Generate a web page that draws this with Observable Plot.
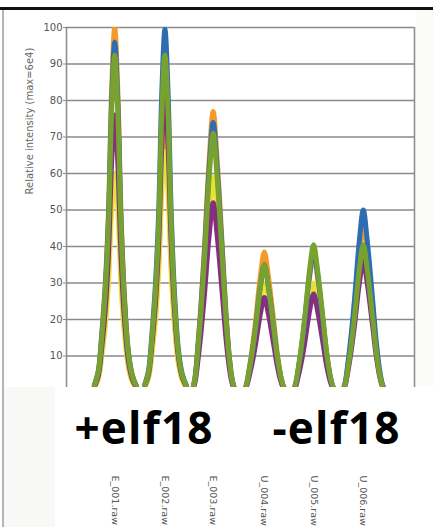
<!DOCTYPE html>
<html><head><meta charset="utf-8">
<script src="https://cdn.jsdelivr.net/npm/d3@7"></script>
<script src="https://cdn.jsdelivr.net/npm/@observablehq/plot@0.6"></script>
<style>
html,body{margin:0;padding:0;background:#fff;}
#wrap{position:relative;width:433px;height:527px;overflow:hidden;background:#fff;}
#topline{position:absolute;left:0;top:7px;width:433px;height:3px;background:#111;}
#leftline{position:absolute;left:2px;top:10px;width:2px;height:517px;background:#b5b5b5;}
#leftbox{position:absolute;left:4px;top:387px;width:51px;height:140px;background:#f8f8f7;}
#rightbox{position:absolute;left:416px;top:10px;width:17px;height:377px;background:#fbfbf7;}
#chart{position:absolute;left:0;top:0;}
</style></head><body><div id="wrap">
<div id="topline"></div><div id="leftline"></div><div id="leftbox"></div><div id="rightbox"></div>
<div id="chart"></div></div>
<script>
// sample names (x tick labels) and peak apex positions (in sample units)
const samples = ["E_001.raw", "E_002.raw", "E_003.raw", "U_004.raw", "U_005.raw", "U_006.raw"];
const peakCenters = [0.97, 1.98, 2.95, 3.98, 4.97, 5.97];
// which profile each sample's peak follows (0 = narrow tall peak, 1 = broader peak)
const peakProfile = [0, 0, 1, 1, 1, 1];

// series (drawing order) and colours
const seriesNames = ["trace A", "trace B", "trace C", "trace D", "trace E"];
const seriesColors = ["#f39a2b", "#e9e236", "#85307f", "#2f6db3", "#78a22f"];

// apex heights per sample
const traceA = [100, 72, 77, 38.5, 38, 46];      // orange
const traceB = [60, 66, 59, 30, 30, 39];         // yellow
const traceC = [76, 82, 52, 26, 27, 36];         // purple
const traceD = [96, 99.5, 74, 35, 39, 50];       // blue
const traceE = [92.5, 92.5, 71, 35, 40.5, 40.5]; // green

// peak profiles: offset from apex (sample units) at each fraction of apex
const profileFractions = [0.02, 0.06, 0.16, 0.30, 0.50, 0.83, 1, 0.83, 0.50, 0.28, 0.12, 0.05, 0.02];
const narrowOffsets = [-0.41, -0.33, -0.262, -0.19, -0.125, -0.062, 0, 0.062, 0.125, 0.19, 0.27, 0.35, 0.43];
const broadOffsets  = [-0.40, -0.36, -0.31, -0.25, -0.18, -0.08, 0, 0.08, 0.19, 0.26, 0.33, 0.38, 0.42];

const yTicks = [10, 20, 30, 40, 50, 60, 70, 80, 90, 100];
const yLabel = "Relative intensity (max=6e4)";
const groupLabels = ["+elf18", "-elf18"];

const heights = [traceA, traceB, traceC, traceD, traceE];
const profiles = [narrowOffsets, broadOffsets];
const rows = [];
seriesNames.forEach((s, si) => {
  peakCenters.forEach((c, pi) => {
    profiles[peakProfile[pi]].forEach((o, k) => {
      rows.push({series: s, key: s + "-" + pi, t: c + o, v: heights[si][pi] * profileFractions[k]});
    });
  });
});

const chart = Plot.plot({
  width: 433, height: 527,
  marginLeft: 66, marginRight: 19, marginTop: 27, marginBottom: 140,
  style: {background: "transparent", fontFamily: "DejaVu Sans, sans-serif"},
  x: {domain: [0, 7], axis: null},
  y: {domain: [0, 100], range: [392, 27], axis: null},
  color: {domain: seriesNames, range: seriesColors},
  marks: [
    Plot.ruleY(yTicks, {stroke: "#8a8a8a", strokeWidth: 1.6}),
    Plot.ruleX([0, 7], {stroke: "#8f8f8f", strokeWidth: 1.6}),
    Plot.axisY(yTicks, {tickSize: 3, tickPadding: 1, fontSize: 10, color: "#555", stroke: "#8a8a8a", label: null}),
    Plot.line(rows, {x: "t", y: "v", z: "key", stroke: "series", strokeWidth: 5, curve: "catmull-rom", clip: "frame", strokeLinecap: "round"}),
    Plot.text([yLabel], {frameAnchor: "left", dx: -37, dy: -13, rotate: -90, fontSize: 10, fill: "#666"}),
    Plot.text(samples, {x: (d, i) => peakCenters[i], text: d => d, frameAnchor: "bottom", dy: 88, rotate: 90, textAnchor: "start", lineAnchor: "middle", fontSize: 9.5, fill: "#555"}),
    Plot.text([groupLabels[0]], {frameAnchor: "bottom-left", dx: 8, dy: 56, textAnchor: "start", lineAnchor: "bottom", fontSize: 44, fontWeight: "bold", fontFamily: "Open Sans", fill: "#000"}),
    Plot.text([groupLabels[1]], {frameAnchor: "bottom-left", dx: 206, dy: 56, textAnchor: "start", lineAnchor: "bottom", fontSize: 44, fontWeight: "bold", fontFamily: "Open Sans", fill: "#000"})
  ]
});
chart.querySelectorAll("text").forEach(t => { if (t.textContent.includes("elf18")) t.style.letterSpacing = "1.2px"; });
document.getElementById("chart").appendChild(chart);
</script></body></html>
